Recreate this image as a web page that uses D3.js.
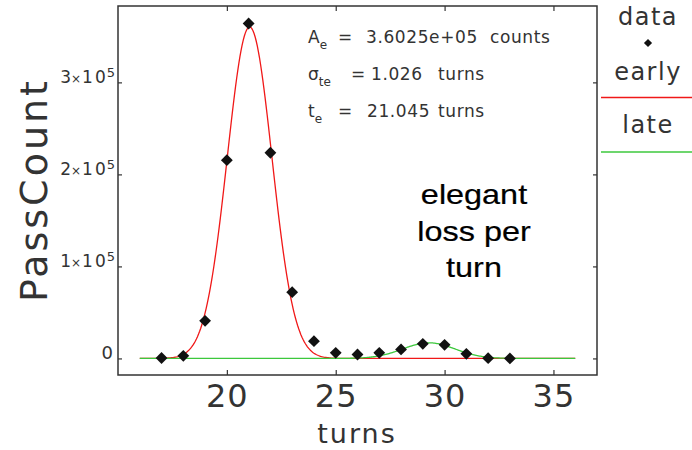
<!DOCTYPE html>
<html>
<head>
<meta charset="utf-8">
<script src="https://cdn.jsdelivr.net/npm/d3@7"></script>
<style>
  body { margin: 0; background: #fff; }
  text { font-family: "DejaVu Sans", sans-serif; fill: #333; }
</style>
</head>
<body>
<svg width="692" height="450"></svg>
<script>
// measured pass counts per turn
var turns  = [17, 18, 19, 20, 21, 22, 23, 24, 25, 26, 27, 28, 29, 30, 31, 32, 33];
var counts = [500, 2800, 40900, 215500, 364000, 223500, 72000, 18800, 6100, 4300, 6100, 9800, 15900, 14800, 5000, 300, 0];

// fit parameters (early from the annotation, late)
var earlyFit = { A: 3.6025e5, sigma: 1.026, t0: 21.045 };
var lateFit  = { A: 17000, sigma: 1.2, t0: 29.28 };
var fitRange = [16, 36];

var xTicks = [20, 25, 30, 35];
var yTicks = [0, 1e5, 2e5, 3e5];

var svg = d3.select("svg"),
    plotL = 118, plotR = 597, plotT = 6, plotB = 375;

var x = d3.scaleLinear().domain([15, 37]).range([plotL, plotR]);
var y = d3.scaleLinear().domain([-18000, 383000]).range([plotB, plotT]);

function gauss(p) {
  return function(t) { return p.A * Math.exp(-Math.pow(t - p.t0, 2) / (2 * p.sigma * p.sigma)); };
}

var tGrid = d3.range(fitRange[0], fitRange[1] + 0.001, 0.05);
var line = d3.line().x(function(d) { return x(d[0]); }).y(function(d) { return y(d[1]); });

// frame
svg.append("rect")
    .attr("x", plotL).attr("y", plotT)
    .attr("width", plotR - plotL).attr("height", plotB - plotT)
    .attr("fill", "none").attr("stroke", "#333").attr("stroke-width", 1.5);

// axes (ticks point inward)
var gx = svg.append("g").attr("transform", "translate(0," + plotB + ")")
    .call(d3.axisBottom(x).tickValues(xTicks).tickSize(-5).tickPadding(8));
gx.selectAll("text").attr("font-size", 32).attr("dy", "0.75em").attr("letter-spacing", 1);

svg.append("g").attr("transform", "translate(0," + plotT + ")")
    .call(d3.axisTop(x).tickValues(xTicks).tickSize(-5).tickFormat(""));

svg.append("g").attr("transform", "translate(" + plotL + ",0)")
    .call(d3.axisLeft(y).tickValues(yTicks).tickSize(-4).tickFormat(""));

svg.append("g").attr("transform", "translate(" + plotR + ",0)")
    .call(d3.axisRight(y).tickValues(yTicks).tickSize(-4).tickFormat(""));

svg.selectAll(".domain").remove();
svg.selectAll(".tick line").attr("stroke", "#333").attr("stroke-width", 1.2);
svg.selectAll(".tick text").attr("fill", "#333");

// y tick labels like 3×10⁵
var yLab = svg.append("g").selectAll("text")
    .data(yTicks)
    .enter().append("text")
    .attr("x", plotL - 3)
    .attr("y", function(d) { return y(d) + 1; })
    .attr("text-anchor", "end")
    .style("font-size", "17px");
yLab.each(function(d) {
  var t = d3.select(this);
  if (d === 0) { t.attr("dx", -2).style("font-size", "18px").text("0"); return; }
  t.append("tspan").text(d / 1e5);
  t.append("tspan").style("font-size", "12px").text("×");
  t.append("tspan").attr("dx", 1).text("1");
  t.append("tspan").attr("dx", 2).text("0");
  t.append("tspan").style("font-size", "13px").attr("dx", 1).attr("dy", -6).text("5");
});

// axis titles
svg.append("text")
    .attr("x", 357).attr("y", 443)
    .attr("text-anchor", "middle").attr("font-size", 27)
    .attr("letter-spacing", 2)
    .text("turns");

svg.append("text")
    .attr("transform", "translate(47,190) rotate(-90)")
    .attr("text-anchor", "middle").attr("font-size", 38)
    .attr("letter-spacing", 3)
    .text("PassCount");

// fit curves
svg.append("path")
    .datum(tGrid.map(function(t) { return [t, gauss(earlyFit)(t)]; }))
    .attr("d", line).attr("fill", "none")
    .attr("stroke", "#f01818").attr("stroke-width", 1.3);

svg.append("path")
    .datum(tGrid.map(function(t) { return [t, gauss(lateFit)(t)]; }))
    .attr("d", line).attr("fill", "none")
    .attr("stroke", "#3cc83c").attr("stroke-width", 1.3);

// data points
svg.append("g").selectAll("path")
    .data(turns)
    .enter().append("path")
    .attr("d", d3.symbol().type(d3.symbolSquare).size(70))
    .attr("transform", function(d, i) { return "translate(" + x(d) + "," + y(counts[i]) + ") rotate(45)"; })
    .attr("fill", "#111");

// fit annotation
var ann = svg.append("g").attr("font-size", 17);
function annLine(yy, sym, sub, eqX, val, valX, unit, unitX) {
  var t = ann.append("text").attr("x", 308).attr("y", yy);
  t.append("tspan").text(sym);
  t.append("tspan").attr("font-size", 12).attr("dy", 6).text(sub);
  ann.append("text").attr("x", eqX).attr("y", yy).text("=");
  ann.append("text").attr("x", valX).attr("y", yy).attr("letter-spacing", 0.6).text(val);
  ann.append("text").attr("x", unitX).attr("y", yy).attr("letter-spacing", 0.6).text(unit);
}
annLine(43, "A", "e", 338, "3.6025e+05", 366, "counts", 490);
annLine(80, "σ", "te", 351, "1.026", 371, "turns", 438);
annLine(117, "t", "e", 338, "21.045", 367, "turns", 438);

// label in plot (drawn slightly stretched, like the reference)
var lbl = svg.append("text")
    .attr("transform", "translate(474,0) scale(1.2,1)")
    .attr("text-anchor", "middle")
    .attr("font-size", 27)
    .style("font-family", "'Liberation Sans', Arial, sans-serif")
    .style("fill", "#000")
    .style("stroke", "#000").style("stroke-width", 0.2);
["elegant", "loss per", "turn"].forEach(function(s, i) {
  lbl.append("tspan").attr("x", 0).attr("y", 204.5 + i * 36.5).text(s);
});

// legend
var leg = svg.append("g").attr("font-size", 24).attr("text-anchor", "middle");
leg.append("text").attr("x", 648).attr("y", 25).attr("letter-spacing", 1.5).text("data");
leg.append("path")
    .attr("d", d3.symbol().type(d3.symbolSquare).size(34))
    .attr("transform", "translate(648,43) rotate(45)")
    .attr("fill", "#111");
leg.append("text").attr("x", 648).attr("y", 80).attr("letter-spacing", 1.5).text("early");
leg.append("line").attr("x1", 601).attr("x2", 692).attr("y1", 97.5).attr("y2", 97.5)
    .attr("stroke", "#f01818").attr("stroke-width", 1.3);
leg.append("text").attr("x", 648).attr("y", 133).attr("letter-spacing", 1.5).text("late");
leg.append("line").attr("x1", 601).attr("x2", 692).attr("y1", 152).attr("y2", 152)
    .attr("stroke", "#3cc83c").attr("stroke-width", 1.3);
</script>
</body>
</html>
